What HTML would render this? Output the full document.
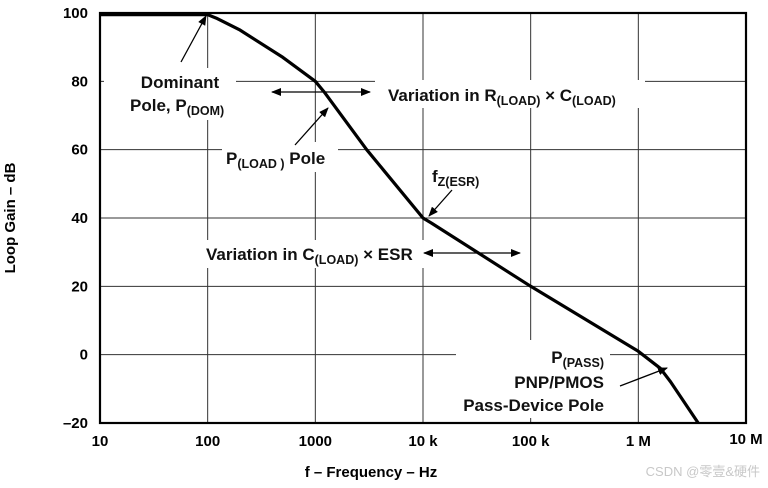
<!DOCTYPE html>
<html><head><meta charset="utf-8"><style>
body{margin:0;background:#fff;}
svg{display:block;font-family:"Liberation Sans",Arial,sans-serif;font-weight:bold;}
</style></head><body>
<svg width="768" height="488" viewBox="0 0 768 488">
<defs><marker id="ah" markerWidth="10" markerHeight="8" refX="9" refY="4" orient="auto" markerUnits="userSpaceOnUse"><path d="M0,0 L10,4 L0,8 z" fill="#000"/></marker></defs>
<g id="grid"></g>
<g id="labels-bg"></g>
<path id="curve" fill="none" stroke="#000" stroke-width="3.2" stroke-linejoin="round"/>
<rect x="100" y="13" width="646" height="410" fill="none" stroke="#000" stroke-width="2.2"/>
<g id="ticks" font-size="15"></g>
<g font-size="17" fill="#111">
<text x="180" y="88" text-anchor="middle">Dominant</text>
<text x="130" y="111">Pole, P<tspan font-size="12.5" dy="4">(DOM)</tspan></text>
<text x="388" y="101">Variation in R<tspan font-size="12.5" dy="4">(LOAD)</tspan><tspan dy="-4"> × C</tspan><tspan font-size="12.5" dy="4">(LOAD)</tspan></text>
<text x="226" y="164">P<tspan font-size="12.5" dy="4">(LOAD )</tspan><tspan dy="-4"> Pole</tspan></text>
<text x="432" y="182">f<tspan font-size="12.5" dy="4">Z(ESR)</tspan></text>
<text x="206" y="260">Variation in C<tspan font-size="12.5" dy="4">(LOAD)</tspan><tspan dy="-4"> × ESR</tspan></text>
<text x="604" y="363" text-anchor="end">P<tspan font-size="12.5" dy="4">(PASS)</tspan></text>
<text x="604" y="388" text-anchor="end">PNP/PMOS</text>
<text x="604" y="411" text-anchor="end">Pass-Device Pole</text>
</g>
<g stroke="#000" stroke-width="1.3" fill="none">
<line x1="181" y1="62" x2="206" y2="16" marker-end="url(#ah)"/>
<line x1="320" y1="92" x2="272" y2="92" marker-end="url(#ah)"/>
<line x1="320" y1="92" x2="370" y2="92" marker-end="url(#ah)"/>
<line x1="295" y1="145" x2="328" y2="108" marker-end="url(#ah)"/>
<line x1="452" y1="190" x2="429" y2="216" marker-end="url(#ah)"/>
<line x1="470" y1="253" x2="424" y2="253" marker-end="url(#ah)"/>
<line x1="470" y1="253" x2="520" y2="253" marker-end="url(#ah)"/>
<line x1="620" y1="386" x2="667" y2="368" marker-end="url(#ah)"/>
</g>
<text x="15" y="218" font-size="15" text-anchor="middle" transform="rotate(-90 15 218)">Loop Gain – dB</text>
<text x="371" y="477" font-size="15" text-anchor="middle">f – Frequency – Hz</text>
<text x="760" y="476" font-size="13" font-weight="normal" fill="#c8c8c8" text-anchor="end" style='font-family:"Liberation Sans","Noto Sans CJK SC",sans-serif'>CSDN @零壹&amp;硬件</text>
</svg>
<script>
const xTickLabels=["10","100","1000","10 k","100 k","1 M","10 M"];
const yTickValues=[100,80,60,40,20,0,-20];
const freqs=[10,100,120,200,500,1000,1200,3000,10000,12000,100000,1000000,1600000,2000000,3600000];
const gains=[99.5,99.5,98.5,95,87,80,77,60,40,38.5,20,1,-4,-8,-20];
const X0=100,X1=746,Y0=13,Y1=423;
const x=f=>X0+(Math.log10(f)-1)/6*(X1-X0);
const y=g=>Y0+(100-g)/120*(Y1-Y0);
const NS="http://www.w3.org/2000/svg";
const grid=document.getElementById('grid'),ticks=document.getElementById('ticks'),bg=document.getElementById('labels-bg');
for(let i=1;i<6;i++){const l=document.createElementNS(NS,'line');const xx=x(Math.pow(10,i+1));
l.setAttribute('x1',xx);l.setAttribute('x2',xx);l.setAttribute('y1',Y0);l.setAttribute('y2',Y1);l.setAttribute('stroke','#333');l.setAttribute('stroke-width','1');

grid.appendChild(l);}
yTickValues.forEach(v=>{if(v>-20&&v<100){const l=document.createElementNS(NS,'line');l.setAttribute('x1',X0);l.setAttribute('x2',X1);l.setAttribute('y1',y(v));l.setAttribute('y2',y(v));l.setAttribute('stroke','#333');l.setAttribute('stroke-width','1');

grid.appendChild(l);}
const t=document.createElementNS(NS,'text');t.setAttribute('x',88);t.setAttribute('y',y(v)+5);t.setAttribute('text-anchor','end');t.textContent=v<0?'–'+(-v):v;

ticks.appendChild(t);});
xTickLabels.forEach((s,i)=>{const t=document.createElementNS(NS,'text');t.setAttribute('x',x(Math.pow(10,i+1)));t.setAttribute('y',i==6?444:446);t.setAttribute('text-anchor','middle');t.textContent=s;

ticks.appendChild(t);});
[[126,68,110,52],[375,80,270,28],[222,142,116,30],[430,164,56,26],[200,240,226,28],[456,340,154,78],[104,62,24,60]].forEach(r=>{const e=document.createElementNS(NS,'rect');e.setAttribute('x',r[0]);e.setAttribute('y',r[1]);e.setAttribute('width',r[2]);e.setAttribute('height',r[3]);e.setAttribute('fill','#fff');

bg.appendChild(e);});
document.getElementById('curve').setAttribute('d',freqs.map((f,i)=>(i?'L':'M')+x(f).toFixed(1)+','+y(gains[i]).toFixed(1)).join(' '));
</script>
</body></html>
